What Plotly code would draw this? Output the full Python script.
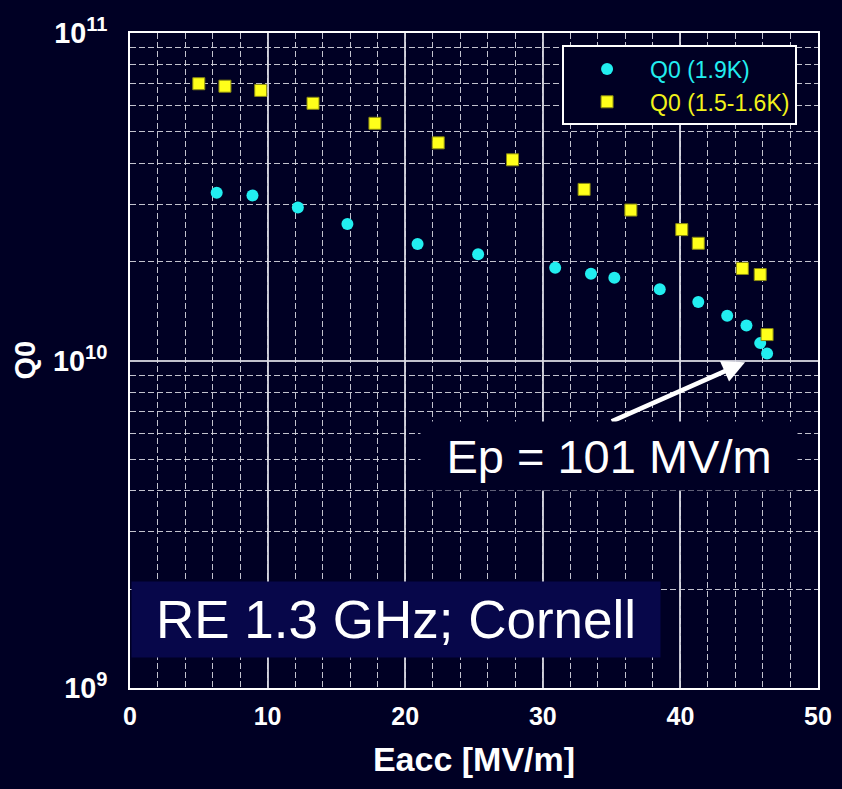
import numpy as np
import plotly.graph_objects as go

# Q0 vs accelerating gradient, 1.9 K
eacc_19k = [6.3, 8.9, 12.2, 15.8, 20.9, 25.3, 30.9, 33.5, 35.2, 38.5, 41.3, 43.4, 44.8, 45.8, 46.3]
q0_19k = [3.25e10, 3.19e10, 2.93e10, 2.61e10, 2.27e10, 2.11e10, 1.92e10, 1.84e10, 1.79e10,
          1.65e10, 1.51e10, 1.37e10, 1.28e10, 1.13e10, 1.05e10]

# Q0 vs accelerating gradient, 1.5-1.6 K
eacc_15k = [5.0, 6.9, 9.5, 13.3, 17.8, 22.4, 27.8, 33.0, 36.4, 40.1, 41.3, 44.5, 45.8, 46.3]
q0_15k = [7.0e10, 6.88e10, 6.68e10, 6.1e10, 5.3e10, 4.62e10, 4.1e10, 3.33e10, 2.88e10,
          2.51e10, 2.28e10, 1.91e10, 1.83e10, 1.2e10]

x_ticks = [0, 10, 20, 30, 40, 50]

BG = "#000024"
GRID = "rgba(215,215,225,0.9)"
FONT = "Liberation Sans, Arial, sans-serif"

fig = go.Figure()
fig.add_trace(go.Scatter(
    x=eacc_19k, y=q0_19k, mode="markers",
    name="<span style='color:#22eef0'>Q0 (1.9K)</span>",
    marker=dict(symbol="circle", size=12, color="#22eef0", line=dict(width=0)),
))
fig.add_trace(go.Scatter(
    x=eacc_15k, y=q0_15k, mode="markers",
    name="<span style='color:#f2f21a'>Q0 (1.5-1.6K)</span>",
    marker=dict(symbol="square", size=12, color="#ffff1a", line=dict(width=1, color="#8a8a10")),
))

fig.update_layout(
    width=842, height=789,
    margin=dict(l=130, r=24, t=33, b=101),
    paper_bgcolor=BG, plot_bgcolor=BG,
    font=dict(family=FONT, color="white"),
    showlegend=True,
    legend=dict(
        x=0.628, y=0.981, xanchor="left", yanchor="top",
        bgcolor=BG, bordercolor="white", borderwidth=2,
        font=dict(size=23, family=FONT),
        itemwidth=76, tracegroupgap=0,
    ),
    xaxis=dict(
        range=[0, 50], tickvals=x_ticks, ticktext=[str(v) for v in x_ticks],
        showline=True, linecolor="white", linewidth=2, mirror=True,
        showgrid=True, gridcolor=GRID, gridwidth=1.5,
        minor=dict(dtick=2, showgrid=True, gridcolor=GRID, griddash="6px,3px", gridwidth=1),
        ticks="", zeroline=False, automargin=False,
        tickfont=dict(size=25, family=FONT, weight="bold", color="white"),
        ticklabelstandoff=5,
        title=dict(text="Eacc [MV/m]", font=dict(size=34, family=FONT, weight="bold", color="white"),
                   standoff=18),
    ),
    yaxis=dict(
        type="log", range=[9, 11], dtick=1, exponentformat="power",
        showline=True, linecolor="white", linewidth=2, mirror=True,
        showgrid=True, gridcolor=GRID, gridwidth=1.5,
        minor=dict(dtick="D1", showgrid=True, gridcolor=GRID, griddash="6px,3px", gridwidth=1),
        ticks="", zeroline=False, automargin=False,
        tickfont=dict(size=23, family=FONT, weight="bold", color="white"),
        ticklabelstandoff=16,
    ),
)

# vertical axis title
fig.add_annotation(
    x=-0.154, y=0.5, xref="paper", yref="paper", xanchor="center", yanchor="middle",
    text="Q0", textangle=-90, showarrow=False,
    font=dict(size=29, family=FONT, weight="bold", color="white"),
)

# peak surface field callout with arrow
fig.add_annotation(
    x=44.7, y=np.log10(9.88e9), xref="x", yref="y",
    ax=34.9, ay=np.log10(6.49e9), axref="x", ayref="y",
    text="", showarrow=True, arrowhead=2, arrowsize=1, arrowwidth=4.5, arrowcolor="white",
)
fig.add_annotation(
    x=0.696, y=0.354, xref="paper", yref="paper", xanchor="center", yanchor="middle",
    text="Ep = 101 MV/m", showarrow=False,
    font=dict(size=47, family=FONT, color="white"),
    bgcolor=BG, width=366, height=58, borderpad=5,
)
fig.add_annotation(
    x=0.3866, y=0.1045, xref="paper", yref="paper", xanchor="center", yanchor="middle",
    text="RE 1.3 GHz; Cornell", showarrow=False,
    font=dict(size=53, family=FONT, color="white"),
    bgcolor="#07074a", width=518, height=65, borderpad=5,
)

fig.write_html("out.html")
